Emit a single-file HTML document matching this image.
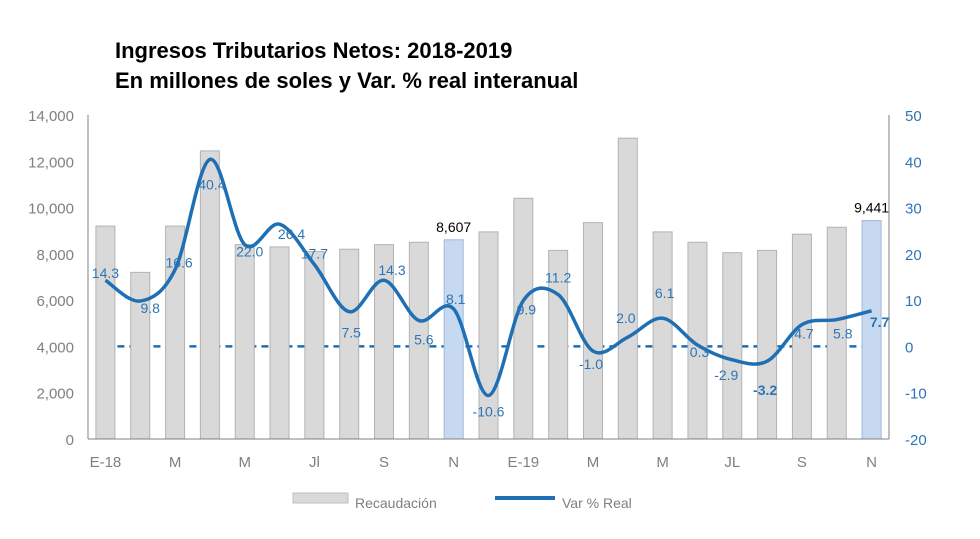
<!DOCTYPE html>
<html><head><meta charset="utf-8"><style>
body{margin:0;background:#fff;}
svg{display:block;font-family:"Liberation Sans",sans-serif;}
</style></head><body>
<svg id="chart" width="980" height="539" viewBox="0 0 980 539">
<text x="115" y="58" font-size="22" font-weight="bold" fill="#000">Ingresos Tributarios Netos: 2018-2019</text>
<text x="115" y="88" font-size="22" font-weight="bold" fill="#000">En millones de soles y Var. % real interanual</text>
<g id="grid"></g><g id="bars"></g><g id="line"></g><g id="axes"></g>
<g>
<rect x="293" y="493" width="55" height="10" fill="#d9d9d9" stroke="#bfbfbf"/>
<text x="355" y="508" font-size="14" fill="#808080">Recaudación</text>
<line x1="495" y1="498" x2="555" y2="498" stroke="#1f6fb5" stroke-width="4"/>
<text x="562" y="508" font-size="14" fill="#808080">Var % Real</text>
</g>
</svg>
<script>
const categories=["E-18","F","M","A","M","J","Jl","A","S","O","N","D","E-19","F","M","A","M","J","JL","A","S","O","N"];
const tickLabels=["E-18","","M","","M","","Jl","","S","","N","","E-19","","M","","M","","JL","","S","","N"];
const recaudacion=[9200,7200,9200,12450,8400,8300,8100,8200,8400,8500,8607,8950,10400,8150,9350,13000,8950,8500,8050,8150,8850,9150,9441];
const varReal=[14.3,9.8,16.6,40.4,22.0,26.4,17.7,7.5,14.3,5.6,8.1,-10.6,9.9,11.2,-1.0,2.0,6.1,0.3,-2.9,-3.2,4.7,5.8,7.7];
const leftTicks=[0,2000,4000,6000,8000,10000,12000,14000];
const rightTicks=[-20,-10,0,10,20,30,40,50];
const highlight=[10,22];
const bold=[19,22];
const lblDx=[0,10,4,2,5,12,0,2,8,5,2,0,3,0,-2,-2,2,2,-6,-2,2,6,8];
const lblDy=[-2,12,-2,30,12,15,-6,26,-5,24,-5,21,14,-12,18,-14,-20,12,20,34,14,19,16];
const NS="http://www.w3.org/2000/svg";
const x0=88,x1=889,yTop=115,yBot=439;
const n=categories.length,step=(x1-x0)/n;
const xs=i=>x0+step*(i+0.5);
const yL=v=>yBot-(v/14000)*(yBot-yTop);
const yR=v=>yBot-((v+20)/70)*(yBot-yTop);
function mk(tag,attrs,parent){const e=document.createElementNS(NS,tag);for(const k in attrs)e.setAttribute(k,attrs[k]);document.getElementById(parent).appendChild(e);return e;}
recaudacion.forEach((v,i)=>{
 const hl=highlight.includes(i);
 const r=mk('rect',{x:xs(i)-9.5,y:yL(v),width:19,height:yBot-yL(v),fill:hl?'#c6d9f1':'#d9d9d9',stroke:hl?'#9fb9dc':'#b3b3b3','stroke-width':1},'bars');
 
 
 if(hl){const t=mk('text',{x:xs(i),y:yL(v)-8,'font-size':14,'text-anchor':'middle',fill:'#000'},'bars');t.textContent=v.toLocaleString('en-US');
 
 }
});
const z=mk('line',{x1:xs(0),x2:xs(n-1),y1:yR(0),y2:yR(0),stroke:'#1f6fb5','stroke-width':2.5,'stroke-dasharray':'7,5'},'grid');


const pts=varReal.map((v,i)=>[xs(i),yR(v)]);
let d='M'+pts[0][0]+','+pts[0][1];
for(let i=0;i<pts.length-1;i++){const p0=pts[Math.max(0,i-1)],p1=pts[i],p2=pts[i+1],p3=pts[Math.min(pts.length-1,i+2)];
 const c1=[p1[0]+(p2[0]-p0[0])/6,p1[1]+(p2[1]-p0[1])/6],c2=[p2[0]-(p3[0]-p1[0])/6,p2[1]-(p3[1]-p1[1])/6];
 d+=` C${c1[0]},${c1[1]} ${c2[0]},${c2[1]} ${p2[0]},${p2[1]}`;}
const path=mk('path',{d:d,fill:'none',stroke:'#1f6fb5','stroke-width':3.5},'line');


varReal.forEach((v,i)=>{
 const t=mk('text',{x:xs(i)+lblDx[i],y:yR(v)+lblDy[i],'font-size':14,'text-anchor':'middle',fill:'#2e75b6','font-weight':bold.includes(i)?'bold':'normal'},'line');
 t.textContent=v.toFixed(1);
 
 
});
const a1=mk('line',{x1:x0,x2:x0,y1:yTop,y2:yBot,stroke:'#808080'},'axes');


const a2=mk('line',{x1:x1,x2:x1,y1:yTop,y2:yBot,stroke:'#808080'},'axes');


const a3=mk('line',{x1:x0,x2:x1,y1:yBot,y2:yBot,stroke:'#808080'},'axes');


leftTicks.forEach(v=>{const t=mk('text',{x:74,y:yL(v)+6,'font-size':15,'text-anchor':'end',fill:'#808080'},'axes');t.textContent=v.toLocaleString('en-US');
 
 });
rightTicks.forEach(v=>{const t=mk('text',{x:905,y:yR(v)+6,'font-size':15,fill:'#2e75b6'},'axes');t.textContent=v;
 
 });
tickLabels.forEach((s,i)=>{if(!s)return;const t=mk('text',{x:xs(i),y:467,'font-size':15,'text-anchor':'middle',fill:'#808080'},'axes');t.textContent=s;
 
 });
</script>
</body></html>
